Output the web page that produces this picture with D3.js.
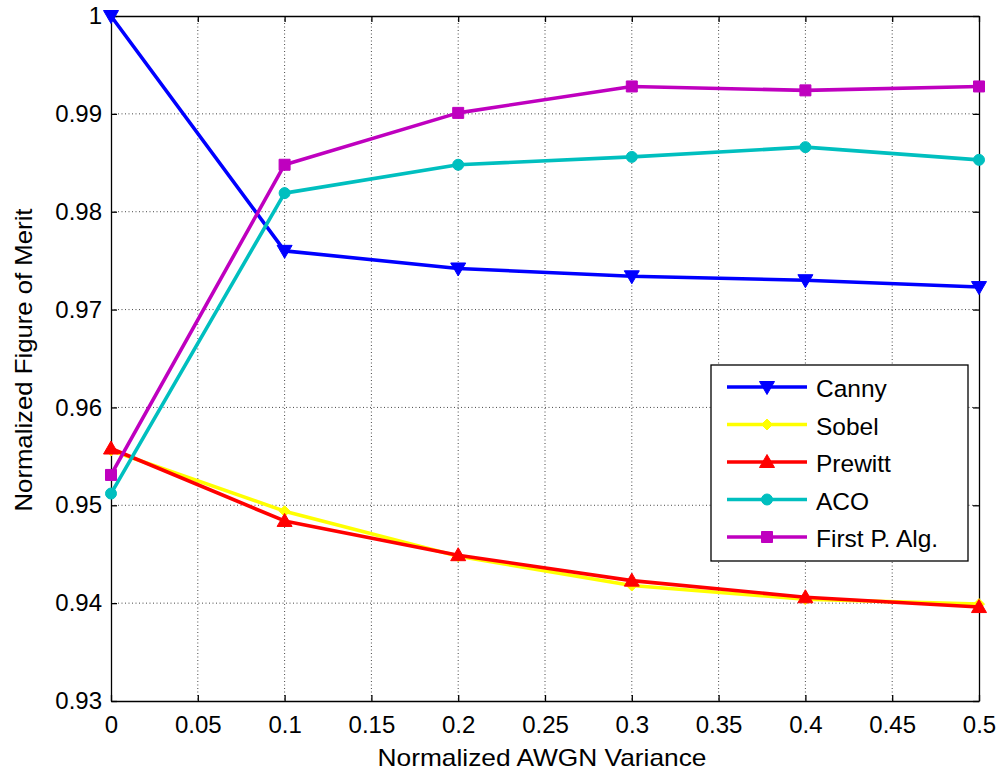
<!DOCTYPE html>
<html><head><meta charset="utf-8">
<script src="https://cdn.jsdelivr.net/npm/d3@7"></script>
<style>body{margin:0;background:#fff;} text{font-family:"Liberation Sans",Arial,sans-serif;}</style>
</head><body><svg id="c" width="1000" height="774"></svg>
<script>
const xValues = [0, 0.1, 0.2, 0.3, 0.4, 0.5];
const canny   = [1.0000, 0.9760, 0.9742, 0.9734, 0.9730, 0.9723];
const sobel   = [0.9556, 0.9494, 0.9448, 0.9418, 0.9404, 0.9399];
const prewitt = [0.9558, 0.9484, 0.9449, 0.9423, 0.9406, 0.9396];
const aco     = [0.9512, 0.9819, 0.9848, 0.9856, 0.9866, 0.9853];
const firstP  = [0.9531, 0.9848, 0.9901, 0.9928, 0.9924, 0.9928];
const seriesNames = ["Canny", "Sobel", "Prewitt", "ACO", "First P. Alg."];
const xTicks = [0,0.05,0.1,0.15,0.2,0.25,0.3,0.35,0.4,0.45,0.5];
const xTickLabels = ["0","0.05","0.1","0.15","0.2","0.25","0.3","0.35","0.4","0.45","0.5"];
const yTicks = [0.93,0.94,0.95,0.96,0.97,0.98,0.99,1];
const yTickLabels = ["0.93","0.94","0.95","0.96","0.97","0.98","0.99","1"];

const series = [
  {name: seriesNames[0], values: canny,   color: "#0000ff", marker: "tdown"},
  {name: seriesNames[1], values: sobel,   color: "#ffff00", marker: "diamond"},
  {name: seriesNames[2], values: prewitt, color: "#ff0000", marker: "tup"},
  {name: seriesNames[3], values: aco,     color: "#00bfbf", marker: "circle"},
  {name: seriesNames[4], values: firstP,  color: "#bf00bf", marker: "square"}
];

const L = 111, R = 979, T = 16, B = 701;
const svg = d3.select("#c");
const x = d3.scaleLinear().domain([0, 0.5]).range([L, R]);
const y = d3.scaleLinear().domain([0.93, 1]).range([B, T]);

// grid
const g = svg.append("g");
g.selectAll(".gx").data(xTicks.slice(1, -1)).enter().append("line")
  .attr("x1", d => x(d)).attr("x2", d => x(d)).attr("y1", T).attr("y2", B)
  .attr("stroke", "#333").attr("stroke-width", 0.9).attr("stroke-dasharray", "1,2.5");
g.selectAll(".gy").data(yTicks.slice(1, -1)).enter().append("line")
  .attr("y1", d => y(d)).attr("y2", d => y(d)).attr("x1", L).attr("x2", R)
  .attr("stroke", "#333").attr("stroke-width", 0.9).attr("stroke-dasharray", "1,2.5");

// axes
const xAxisB = d3.axisBottom(x).tickValues(xTicks).tickFormat((d,i) => xTickLabels[i]).tickSizeInner(-6).tickSizeOuter(0).tickPadding(15);
const xAxisT = d3.axisTop(x).tickValues(xTicks).tickFormat("").tickSizeInner(-6).tickSizeOuter(0);
const yAxisL = d3.axisLeft(y).tickValues(yTicks).tickFormat((d,i) => yTickLabels[i]).tickSizeInner(-6).tickSizeOuter(0).tickPadding(9);
const yAxisR = d3.axisRight(y).tickValues(yTicks).tickFormat("").tickSizeInner(-6).tickSizeOuter(0);

function styleAxis(sel){
  sel.select(".domain").attr("stroke", "#000").attr("stroke-width", 1.3);
  sel.selectAll(".tick line").attr("stroke", "#000").attr("stroke-width", 1.3);
  sel.selectAll(".tick text").attr("fill", "#000").style("font-size", "24px").style("font-family", "Liberation Sans, Arial, sans-serif");
}
styleAxis(svg.append("g").attr("transform", `translate(0,${B})`).call(xAxisB));
styleAxis(svg.append("g").attr("transform", `translate(0,${T})`).call(xAxisT));
styleAxis(svg.append("g").attr("transform", `translate(${L},0)`).call(yAxisL));
styleAxis(svg.append("g").attr("transform", `translate(${R},0)`).call(yAxisR));

// markers
function markerPath(type){
  switch(type){
    case "tdown": return "M-7.5,-5.5L7.5,-5.5L0,7.5Z";
    case "tup": return "M-7.5,5.5L7.5,5.5L0,-7.5Z";
    case "diamond": return "M0,-5.5L5.5,0L0,5.5L-5.5,0Z";
    case "square": return "M-5.5,-5.5H5.5V5.5H-5.5Z";
    default: return d3.symbol().type(d3.symbolCircle).size(Math.PI * 5.5 * 5.5)();
  }
}

const line = d3.line().x((d,i) => x(xValues[i])).y(d => y(d));
series.forEach(s => {
  svg.append("path").datum(s.values).attr("d", line).attr("fill", "none")
    .attr("stroke", s.color).attr("stroke-width", 3.6).attr("stroke-linejoin", "round");
  svg.append("g").selectAll("path").data(s.values).enter().append("path")
    .attr("transform", (d,i) => `translate(${x(xValues[i])},${y(d)})`)
    .attr("d", markerPath(s.marker)).attr("fill", s.color).attr("stroke", s.color).attr("stroke-width", 1);
});

// legend
const lg = svg.append("g");
lg.append("rect").attr("x", 711).attr("y", 365).attr("width", 257).attr("height", 196)
  .attr("fill", "#fff").attr("stroke", "#000").attr("stroke-width", 1.3);
series.forEach((s, i) => {
  const yy = 387 + i * 37.5;
  lg.append("line").attr("x1", 727).attr("x2", 807).attr("y1", yy).attr("y2", yy)
    .attr("stroke", s.color).attr("stroke-width", 3.6);
  lg.append("path").attr("transform", `translate(767,${yy})`).attr("d", markerPath(s.marker))
    .attr("fill", s.color).attr("stroke", s.color);
  lg.append("text").attr("x", 816).attr("y", yy + 10).text(s.name).style("font-size", "24.5px").attr("fill", "#000");
});

// axis titles
svg.append("text").attr("x", 542).attr("y", 766).attr("text-anchor", "middle")
  .attr("textLength", 329).attr("lengthAdjust", "spacingAndGlyphs")
  .style("font-size", "24px").text("Normalized AWGN Variance");
svg.append("text").attr("transform", `translate(32,360) rotate(-90)`).attr("text-anchor", "middle")
  .attr("textLength", 303).attr("lengthAdjust", "spacingAndGlyphs")
  .style("font-size", "24px").text("Normalized Figure of Merit");
</script></body></html>
